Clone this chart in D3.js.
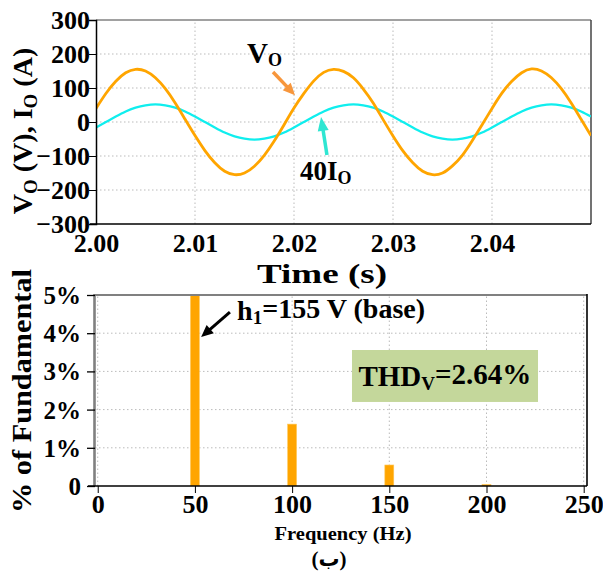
<!DOCTYPE html>
<html><head><meta charset="utf-8">
<script src="https://cdn.jsdelivr.net/npm/d3@7"></script>
<style>
body{margin:0;background:#fff;}
svg text{font-family:"Liberation Serif","Times New Roman",serif;font-weight:bold;fill:#000;}
</style></head>
<body><svg id="c" width="603" height="574"></svg>
<script>
// ---- top panel data (time in s, sampled every 1 ms) ----
const timeS = [2.000,2.001,2.002,2.003,2.004,2.005,2.006,2.007,2.008,2.009,
2.010,2.011,2.012,2.013,2.014,2.015,2.016,2.017,2.018,2.019,
2.020,2.021,2.022,2.023,2.024,2.025,2.026,2.027,2.028,2.029,
2.030,2.031,2.032,2.033,2.034,2.035,2.036,2.037,2.038,2.039,
2.040,2.041,2.042,2.043,2.044,2.045,2.046,2.047,2.048,2.049,2.050];
const voltageV = [40,84,120,145,155,150,130,98,56,8,-40,-84,-120,-145,-155,-150,-130,-98,-56,-8,
41,84,121,146,155,149,130,97,56,7,-41,-85,-120,-145,-155,-150,-129,-98,-55,-8,
40,85,120,145,156,150,130,98,56,8,-40];
const current40 = [-16,0,16,31,42,49,52,49,42,31,16,0,-16,-31,-42,-49,-52,-49,-42,-31,
-16,0,16,31,42,49,52,49,42,31,16,0,-16,-31,-42,-49,-52,-49,-42,-31,
-16,0,16,31,42,49,52,49,42,31,16];
const timeTicks = [2.00,2.01,2.02,2.03,2.04];
const vTicks = [-300,-200,-100,0,100,200,300];
// ---- bottom panel data ----
const harmFreq = [50,100,150,200];
const harmPct = [100,1.62,0.55,0.04];
const freqTicks = [0,50,100,150,200,250];
const pctTicks = [0,1,2,3,4,5];
const pctTickLabels = ["0","1%","2%","3%","4%","5%"];
const thdText = "2.64%";

const svg = d3.select("#c");
const FONT = '"Liberation Serif","Times New Roman",serif';

function arrow(g, xa, ya, xb, yb, color, w, hl, hw){
  const dx=xb-xa, dy=yb-ya, L=Math.hypot(dx,dy), ux=dx/L, uy=dy/L;
  const bx=xb-ux*hl, by=yb-uy*hl;
  g.append("line").attr("x1",xa).attr("y1",ya).attr("x2",bx+ux*1).attr("y2",by+uy*1)
    .attr("stroke",color).attr("stroke-width",w);
  g.append("polygon").attr("points",[[xb,yb],[bx-uy*hw/2,by+ux*hw/2],[bx+uy*hw/2,by-ux*hw/2]].map(p=>p.join(",")).join(" "))
    .attr("fill",color);
}

// ================= TOP PANEL =================
const x1 = d3.scaleLinear().domain([2.00,2.05]).range([96,591]);
const y1 = d3.scaleLinear().domain([-300,300]).range([224,20]);
const gTop = svg.append("g");
gTop.append("g").selectAll("line").data(vTicks.filter(v=>v>-300&&v<300)).join("line")
  .attr("x1",x1.range()[0]).attr("x2",x1.range()[1]).attr("y1",d=>y1(d)).attr("y2",d=>y1(d))
  .attr("stroke","#bbb").attr("stroke-dasharray","1.5,2.5");
gTop.append("g").selectAll("line").data(timeTicks.slice(1)).join("line")
  .attr("y1",y1.range()[0]).attr("y2",y1.range()[1]).attr("x1",d=>x1(d)).attr("x2",d=>x1(d))
  .attr("stroke","#bbb").attr("stroke-dasharray","1.5,2.5");
gTop.append("line").attr("x1",96).attr("x2",591).attr("y1",20).attr("y2",20).attr("stroke","#444").attr("stroke-width",1.2);
gTop.append("line").attr("x1",591).attr("x2",591).attr("y1",20).attr("y2",224).attr("stroke","#444").attr("stroke-width",1.5);
svg.append("clipPath").attr("id","cp1").append("rect").attr("x",96).attr("y",20).attr("width",495).attr("height",204);
const lineV = d3.line().x((d,i)=>x1(timeS[i])).y(d=>y1(d)).curve(d3.curveNatural);
gTop.append("path").datum(current40).attr("d",lineV).attr("fill","none").attr("stroke","#10EEEE").attr("stroke-width",2.3).attr("clip-path","url(#cp1)");
gTop.append("path").datum(voltageV).attr("d",lineV).attr("fill","none").attr("stroke","#FFA500").attr("stroke-width",2.8).attr("clip-path","url(#cp1)");
const ay1 = gTop.append("g").attr("transform","translate(96,0)")
  .call(d3.axisLeft(y1).tickValues(vTicks).tickSize(7).tickFormat(d3.format("d")));
ay1.select(".domain").attr("stroke","#000").attr("stroke-width",1.5);
ay1.selectAll("text").style("font-family",FONT).style("font-weight","bold").style("font-size","26px").attr("dy","0.34em").attr("x",-6);
const ax1 = gTop.append("g").attr("transform","translate(0,224)")
  .call(d3.axisBottom(x1).tickValues(timeTicks).tickSize(0).tickFormat(d3.format(".2f")));
ax1.select(".domain").attr("stroke","#000").attr("stroke-width",1.5).attr("d","M90,0H591");
ax1.selectAll("text").style("font-family",FONT).style("font-weight","bold").style("font-size","26px").attr("y",10).attr("dy","0.71em");
const yl = gTop.append("text").attr("transform","translate(32,131) rotate(-90)").attr("text-anchor","middle")
  .style("font-size","28px");
yl.append("tspan").text("V");
yl.append("tspan").text("O").style("font-size","19px").attr("dy","0.25em");
yl.append("tspan").text(" (V), I").attr("dy","-0.17em");
yl.append("tspan").text("O").style("font-size","19px").attr("dy","0.25em");
yl.append("tspan").text(" (A)").attr("dy","-0.17em");
gTop.append("text").attr("x",322).attr("y",283).attr("text-anchor","middle").style("font-size","27px")
  .attr("textLength",130).attr("lengthAdjust","spacingAndGlyphs").text("Time (s)");
const vo = gTop.append("text").attr("x",x1(2.01525)).attr("y",y1(174)).style("font-size","29px");
vo.append("tspan").text("V");
vo.append("tspan").text("O").style("font-size","18px").attr("dy","0.2em");
arrow(gTop, x1(2.01788), y1(147), x1(2.0201), y1(79), "#F7963C", 3.5, 12, 11);
const io = gTop.append("text").attr("x",x1(2.0206)).attr("y",y1(-171)).style("font-size","27px");
io.append("tspan").text("40I");
io.append("tspan").text("O").style("font-size","18px").attr("dy","0.2em");
arrow(gTop, x1(2.02333), y1(-97), x1(2.02273), y1(15), "#2FE6D2", 3.5, 14, 11);

// ================= BOTTOM PANEL =================
const x2 = d3.scaleLinear().domain([-1.4,251.7]).range([95,587]);
const y2 = d3.scaleLinear().domain([0,5]).range([486,295]);
const gBot = svg.append("g");
gBot.append("g").selectAll("line").data(pctTicks.filter(v=>v>0&&v<5)).join("line")
  .attr("x1",95).attr("x2",587).attr("y1",d=>y2(d)).attr("y2",d=>y2(d))
  .attr("stroke","#bbb").attr("stroke-dasharray","1.5,2.5");
gBot.append("g").selectAll("line").data(freqTicks).join("line")
  .attr("y1",486).attr("y2",295).attr("x1",d=>x2(d)).attr("x2",d=>x2(d))
  .attr("stroke","#bbb").attr("stroke-dasharray","1.5,2.5");
svg.append("clipPath").attr("id","cp2").append("rect").attr("x",95).attr("y",295).attr("width",492).attr("height",191);
gBot.append("g").attr("clip-path","url(#cp2)").selectAll("rect").data(harmFreq).join("rect")
  .attr("x",d=>x2(d-2.3)).attr("width",x2(4.6)-x2(0))
  .attr("y",(d,i)=>y2(harmPct[i])).attr("height",(d,i)=>y2(0)-y2(harmPct[i]))
  .attr("fill","#FFA500").attr("stroke","#FFC85A").attr("stroke-width",0.6);
gBot.append("line").attr("x1",94).attr("x2",587).attr("y1",295).attr("y2",295).attr("stroke","#808080").attr("stroke-width",2.2);
gBot.append("line").attr("x1",587).attr("x2",587).attr("y1",294).attr("y2",486).attr("stroke","#000").attr("stroke-width",1.6);
const ay2 = gBot.append("g").attr("transform","translate(95,0)")
  .call(d3.axisLeft(y2).tickValues(pctTicks).tickSize(8).tickFormat((d,i)=>pctTickLabels[i]));
ay2.select(".domain").attr("stroke","#808080").attr("stroke-width",2.6).attr("d","M-0.5,486V294");
ay2.selectAll(".tick line").attr("stroke","#000").attr("stroke-width",1.3);
ay2.selectAll("text").style("font-family",FONT).style("font-weight","bold").style("font-size","25px").attr("dy","0.34em").attr("x",-14);
const ax2 = gBot.append("g").attr("transform","translate(0,486)")
  .call(d3.axisBottom(x2).tickValues(freqTicks).tickSize(7));
ax2.select(".domain").attr("stroke","#000").attr("stroke-width",1.6).attr("d","M88,0H587");
ax2.selectAll("text").style("font-family",FONT).style("font-weight","bold").style("font-size","26px").attr("y",9).attr("dy","0.71em");
gBot.append("text").attr("transform","translate(31,391) rotate(-90)").attr("text-anchor","middle")
  .style("font-size","27px").attr("textLength",244).attr("lengthAdjust","spacingAndGlyphs").text("% of Fundamental");
gBot.append("text").attr("x",343).attr("y",540).attr("text-anchor","middle").style("font-size","19px")
  .attr("textLength",137).attr("lengthAdjust","spacingAndGlyphs").text("Frequency (Hz)");
gBot.append("text").attr("x",329).attr("y",566).attr("text-anchor","middle").style("font-size","21px")
  .style("font-family",'"Liberation Serif","DejaVu Sans",serif').text("(ب)");
const h1 = gBot.append("text").attr("x",x2(71.7)).attr("y",y2(4.35)).style("font-size","28px")
  .attr("textLength",188).attr("lengthAdjust","spacingAndGlyphs");
h1.append("tspan").text("h");
h1.append("tspan").text("1").style("font-size","19px").attr("dy","0.2em");
h1.append("tspan").text("=155 V (base)").attr("dy","-0.2em");
arrow(gBot, x2(68), y2(4.55), x2(53.2), y2(3.9), "#000", 3, 12, 11);
gBot.append("rect").attr("x",x2(130.8)).attr("y",y2(3.56)).attr("width",x2(226.5)-x2(130.8)).attr("height",y2(2.2)-y2(3.56))
  .attr("fill","#C4D79B");
const th = gBot.append("text").attr("x",x2(178.6)).attr("y",386).attr("text-anchor","middle").style("font-size","29px");
th.append("tspan").text("THD");
th.append("tspan").text("V").style("font-size","19px").attr("dy","0.2em");
th.append("tspan").text("=" + thdText).attr("dy","-0.2em");
</script></body></html>
